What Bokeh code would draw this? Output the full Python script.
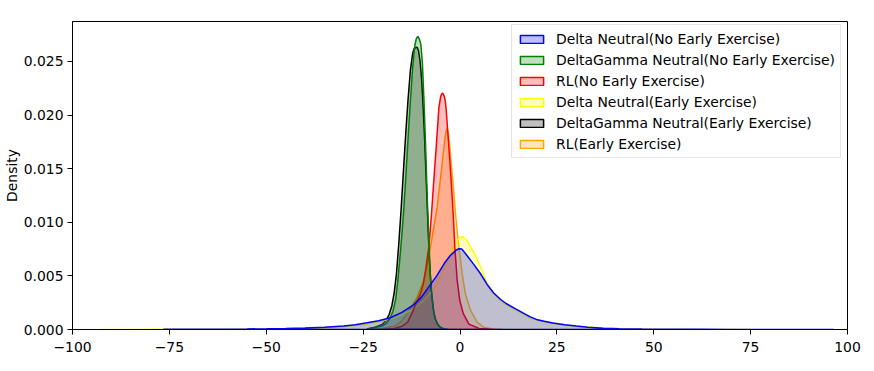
from bokeh.plotting import figure
from bokeh.models import FixedTicker, Legend, LegendItem, PrintfTickFormatter
from bokeh.embed import file_html
from bokeh.resources import INLINE

# ---- data ----
labels = [
    "Delta Neutral(No Early Exercise)",
    "DeltaGamma Neutral(No Early Exercise)",
    "RL(No Early Exercise)",
    "Delta Neutral(Early Exercise)",
    "DeltaGamma Neutral(Early Exercise)",
    "RL(Early Exercise)",
]
colors = ["blue", "green", "red", "yellow", "black", "orange"]

dn_x = [-76.5, -65, -55, -50, -45, -40, -35, -30, -27, -24, -21, -18, -15, -12, -10, -8, -6, -4,
        -2.5, -1, -0.3, 0.5, 1.8, 3.5, 5.3, 7, 8.7, 10.5, 12, 14, 16, 18, 20, 22, 24, 27, 30, 33,
        37, 41, 47, 54, 62, 70, 80, 90, 96.5]
dn_y = [0.00002, 0.00003, 0.00005, 0.00007, 0.0001, 0.00014, 0.0002, 0.00032, 0.00045, 0.00062,
        0.00082, 0.0011, 0.0016, 0.0023, 0.0030, 0.0040, 0.0050, 0.0062, 0.0069, 0.0074, 0.00753,
        0.0075, 0.0069, 0.0061, 0.0052, 0.0042, 0.0034, 0.0028, 0.0024, 0.0020, 0.0016, 0.0012,
        0.0009, 0.00075, 0.0006, 0.00045, 0.00032, 0.0002, 0.00012, 0.00008, 0.00005, 0.00003,
        0.00002, 0.00001, 0.00001, 0.000005, 0.000003]

dg_x = [-24, -22, -20, -19, -18, -17.3, -16.6, -16, -15.3, -14.6, -14, -13.4, -12.8, -12.2, -11.7,
        -11.3, -10.9, -10.5, -10.1, -9.7, -9.3, -8.9, -8.5, -8.1, -7.7, -7.2, -6.7, -6.2, -5.6,
        -5.0, -4.2, -3.2]
dg_y = [0.00003, 0.00018, 0.00035, 0.0006, 0.0011, 0.0017, 0.0028, 0.0047, 0.0075, 0.0107, 0.0141,
        0.0178, 0.0213, 0.0245, 0.0264, 0.0271, 0.02733, 0.0271, 0.0266, 0.0248, 0.0214, 0.0173,
        0.0128, 0.0088, 0.0052, 0.0029, 0.0015, 0.0008, 0.0004, 0.0002, 0.00007, 0.00001]

rl_x = [-20, -17, -15, -13.5, -12.3, -11.5, -10.2, -9.5, -8.9, -8.05, -7.35, -6.76, -6.14, -5.45,
        -5.0, -4.7, -4.43, -4.1, -3.8, -3.56, -2.87, -2.27, -1.76, -1.34, -0.73, -0.05, 0.83, 2.3,
        4.9, 8, 11]
rl_y = [0.0, 0.0001, 0.0003, 0.0007, 0.0016, 0.0023, 0.0033, 0.0042, 0.0055, 0.00768, 0.0108,
        0.0139, 0.0170, 0.0207, 0.0217, 0.0220, 0.02204, 0.0218, 0.0213, 0.0205, 0.0170, 0.0139,
        0.0108, 0.0077, 0.0046, 0.0027, 0.0015, 0.0005, 0.0001, 0.00003, 0.0]

dne_x = [-92.6, -85, -77, -70, -60, -50, -40, -35, -30, -25, -20, -16, -12, -9, -7, -5, -3.3, -1.6,
         -0.5, 0.56, 1.8, 3.1, 4.4, 5.7, 7, 8.7, 10.5, 12, 14, 16, 18, 20, 22, 25, 28, 32, 37, 43,
         50, 58, 66, 75]
dne_y = [0.00001, 0.00001, 0.00002, 0.00002, 0.00003, 0.00005, 0.0001, 0.00016, 0.00028, 0.00045,
         0.0008, 0.0012, 0.0019, 0.0028, 0.0037, 0.0050, 0.0064, 0.0077, 0.0084, 0.0087, 0.0083,
         0.0075, 0.0066, 0.0055, 0.0043, 0.0033, 0.0027, 0.0023, 0.0019, 0.0015, 0.0011, 0.00085,
         0.0007, 0.00052, 0.0004, 0.00025, 0.00014, 0.00007, 0.00004, 0.00002, 0.00001, 0.000005]

dge_x = [-24, -22, -20, -19, -18.3, -17.6, -17, -16.4, -15.8, -15.2, -14.6, -14, -13.4, -12.8,
         -12.2, -11.8, -11.4, -11.05, -10.7, -10.3, -9.9, -9.5, -9.1, -8.7, -8.3, -7.9, -7.4, -6.9,
         -6.4, -5.8, -5.1, -4.3, -3.3]
dge_y = [0.00005, 0.0002, 0.0005, 0.0009, 0.0014, 0.0022, 0.0034, 0.0052, 0.0080, 0.0112, 0.0148,
         0.0183, 0.0215, 0.0242, 0.0258, 0.0262, 0.0263, 0.02633, 0.0260, 0.0250, 0.0233, 0.0207,
         0.0175, 0.0138, 0.0100, 0.0066, 0.0036, 0.0019, 0.0010, 0.0005, 0.0002, 0.00006, 0.00001]

rle_x = [-24, -20, -17, -15, -13, -11.05, -9.3, -8.2, -7.2, -5.9, -4.6, -3.9, -3.6, -3.3, -3.0,
         -2.63, -1.86, -1.16, -0.3, 0.56, 1.4, 2.7, 4.4, 6.1, 9]
rle_y = [0.0, 0.0001, 0.0003, 0.0008, 0.0018, 0.0030, 0.0046, 0.0064, 0.0086, 0.0114, 0.01546,
         0.0178, 0.0185, 0.01878, 0.0183, 0.0170, 0.0139, 0.0108, 0.0077, 0.0052, 0.0033, 0.0018,
         0.0007, 0.0002, 0.00003]

series_x = [dn_x, dg_x, rl_x, dne_x, dge_x, rle_x]
series_y = [dn_y, dg_y, rl_y, dne_y, dge_y, rle_y]

x_ticks = [-100, -75, -50, -25, 0, 25, 50, 75, 100]
x_tick_labels = ["\u2212100", "\u221275", "\u221250", "\u221225", "0", "25", "50", "75", "100"]
y_ticks = [0.0, 0.005, 0.01, 0.015, 0.02, 0.025]

FONT = "DejaVu Sans"
FS = "13.9px"

p = figure(width=868, height=363, x_range=(-100, 100), y_range=(0, 0.02873),
           output_backend="svg", toolbar_location=None,
           min_border_left=72, min_border_right=21, min_border_top=21, min_border_bottom=34)
p.background_fill_color = "white"
p.border_fill_color = "white"
p.xgrid.visible = False
p.ygrid.visible = False
p.outline_line_color = "black"
p.outline_line_width = 1
p.outline_line_alpha = 1

# draw in reverse order (first series ends on top), legend keeps original order
renderers = {}
for idx in reversed(range(len(labels))):
    col = colors[idx]
    xs, ys = series_x[idx], series_y[idx]
    px = [xs[0]] + list(xs) + [xs[-1]]
    py = [0.0] + list(ys) + [0.0]
    renderers[idx] = p.patch(px, py, fill_color=col, fill_alpha=0.25, line_color=col, line_width=1.5)

items = [LegendItem(label=labels[i], renderers=[renderers[i]]) for i in range(len(labels))]

legend = Legend(items=items, location=(439, 171))
legend.label_text_font = FONT
legend.label_text_font_size = FS
legend.label_text_color = "black"
legend.glyph_width = 29
legend.glyph_height = 10
legend.label_standoff = 10
legend.label_height = 17
legend.spacing = 4
legend.padding = 5
legend.margin = 0
legend.border_line_color = "#cccccc"
legend.border_line_width = 1
legend.background_fill_alpha = 0.8
p.add_layout(legend)

p.xaxis.ticker = FixedTicker(ticks=x_ticks)
p.xaxis.major_label_overrides = {t: l for t, l in zip(x_ticks, x_tick_labels)}
p.yaxis.ticker = FixedTicker(ticks=y_ticks)
p.yaxis.formatter = PrintfTickFormatter(format="%.3f")

for ax in (p.xaxis, p.yaxis):
    ax.major_tick_out = 5
    ax.major_tick_in = 0
    ax.minor_tick_out = 0
    ax.minor_tick_in = 0
    ax.axis_line_color = "black"
    ax.major_tick_line_color = "black"
    ax.major_label_text_font = FONT
    ax.major_label_text_font_size = FS
    ax.major_label_text_color = "black"
    ax.major_label_standoff = 4
p.xaxis.major_label_standoff = 7

p.yaxis.axis_label = "Density"
p.yaxis.axis_label_text_font = FONT
p.yaxis.axis_label_text_font_size = FS
p.yaxis.axis_label_text_font_style = "normal"
p.yaxis.axis_label_text_color = "black"
p.yaxis.axis_label_standoff = 1

open("out.html", "w").write(file_html(p, INLINE))
